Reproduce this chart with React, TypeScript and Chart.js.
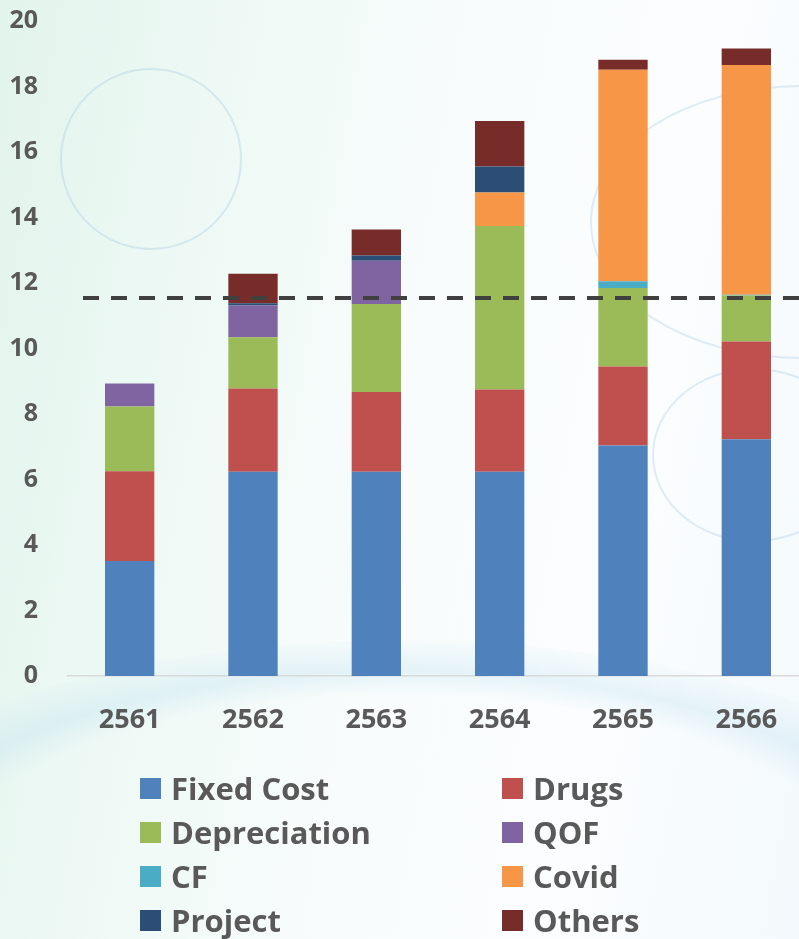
import React, { useEffect, useRef } from "react";
import { Chart, registerables } from "chart.js";

Chart.register(...registerables);

const categories = ["2561", "2562", "2563", "2564", "2565", "2566"];

const seriesNames = ["Fixed Cost", "Drugs", "Depreciation", "QOF", "CF", "Covid", "Project", "Others"];
const seriesColors = ["#4F81BD", "#C0504D", "#9BBB59", "#8064A2", "#4BACC6", "#F79646", "#2C4D75", "#772C2A"];

const fixedCost = [3.51, 6.24, 6.24, 6.24, 7.04, 7.23];
const drugs = [2.74, 2.54, 2.43, 2.51, 2.41, 2.98];
const depreciation = [1.98, 1.56, 2.69, 4.99, 2.4, 1.41];
const qof = [0.7, 0.97, 1.32, 0, 0, 0];
const cf = [0, 0, 0, 0, 0.2, 0.02];
const covid = [0, 0, 0, 1.02, 6.46, 7.02];
const project = [0, 0.07, 0.16, 0.8, 0, 0];
const others = [0, 0.9, 0.79, 1.39, 0.31, 0.5];

const seriesValues = [fixedCost, drugs, depreciation, qof, cf, covid, project, others];

const yTicks = [0, 2, 4, 6, 8, 10, 12, 14, 16, 18, 20];
const threshold = 11.54;

const TEXT = "#595959";
const FONT = "'Open Sans', 'DejaVu Sans', sans-serif";
const CANVAS_SHIFT = 16;

const dashedLinePlugin = {
  id: "thresholdLine",
  afterDatasetsDraw(chart: any) {
    const { ctx, chartArea, scales } = chart;
    const y = scales.y.getPixelForValue(threshold);
    ctx.save();
    ctx.beginPath();
    ctx.setLineDash([16, 12]);
    ctx.lineWidth = 4;
    ctx.strokeStyle = "#404040";
    ctx.moveTo(chartArea.left + 15, y);
    ctx.lineTo(chart.width, y);
    ctx.stroke();
    ctx.restore();
  },
};

function Legend() {
  const rows: number[][] = [];
  for (let i = 0; i < seriesNames.length; i += 2) rows.push([i, i + 1]);
  return (
    <div style={{ position: "absolute", left: 140, top: 766, width: 620 }}>
      {rows.map((r, ri) => (
        <div key={ri} style={{ display: "flex", height: 44, alignItems: "center" }}>
          {r.map((idx) => (
            <div key={idx} style={{ display: "flex", alignItems: "center", width: idx % 2 === 0 ? 362 : 258 }}>
              <div style={{ width: 21, height: 21, background: seriesColors[idx], marginRight: 10 }} />
              <span
                style={{
                  fontFamily: FONT,
                  fontWeight: 700,
                  fontSize: 31,
                  color: TEXT,
                  lineHeight: "44px",
                  whiteSpace: "nowrap",
                }}
              >
                {seriesNames[idx]}
              </span>
            </div>
          ))}
        </div>
      ))}
    </div>
  );
}

export default function App() {
  const canvasRef = useRef<HTMLCanvasElement | null>(null);

  useEffect(() => {
    if (!canvasRef.current) return;
    const chart = new Chart(canvasRef.current, {
      type: "bar",
      data: {
        labels: categories,
        datasets: seriesNames.map((name, i) => ({
          label: name,
          data: seriesValues[i],
          backgroundColor: seriesColors[i],
          borderWidth: 0,
          barPercentage: 0.4,
          categoryPercentage: 1,
          stack: "s",
        })),
      },
      options: {
        responsive: false,
        animation: false,
        devicePixelRatio: 1,
        layout: { padding: { top: 0, right: 0, left: 0, bottom: 0 } },
        plugins: { legend: { display: false }, tooltip: { enabled: false } },
        scales: {
          x: {
            stacked: true,
            grid: { display: false },
            border: { display: true, color: "#d9d9d9", width: 1.5 },
            ticks: {
              color: TEXT,
              font: { family: FONT, weight: "bold", size: 27 },
              padding: 20,
            },
            afterFit(scale: any) {
              scale.height = 939 - 676;
            },
          },
          y: {
            stacked: true,
            min: 0,
            max: 20,
            afterBuildTicks(scale: any) {
              scale.ticks = yTicks.map((v) => ({ value: v }));
            },
            grid: { display: false },
            border: { display: false },
            ticks: {
              color: TEXT,
              font: { family: FONT, weight: "bold", size: 25 },
              padding: 22,
            },
            afterFit(scale: any) {
              scale.width = 68;
            },
          },
        },
      },
      plugins: [dashedLinePlugin],
    } as any);
    return () => chart.destroy();
  }, []);

  return (
    <div
      style={{
        position: "absolute",
        left: 0,
        top: 0,
        width: 799,
        height: 939,
        overflow: "hidden",
        background:
          "linear-gradient(100deg, #e2f4ec 0%, #eef9f5 25%, #f8fcfc 50%, #fbfdfe 75%, #f3f9fc 100%)",
      }}
    >
      <div style={{ position: "absolute", left: 60, top: 68, width: 178, height: 178, borderRadius: "50%", border: "2px solid rgba(180,210,230,0.45)" }} />
      <div style={{ position: "absolute", left: 590, top: 85, width: 420, height: 270, borderRadius: "50%", border: "2px solid rgba(180,210,230,0.4)" }} />
      <div style={{ position: "absolute", left: 652, top: 368, width: 200, height: 170, borderRadius: "50%", border: "2px solid rgba(180,210,230,0.4)" }} />
      <div style={{ position: "absolute", left: -200, top: 640, width: 1200, height: 500, borderRadius: "50%", background: "radial-gradient(ellipse at center, rgba(200,230,240,0) 55%, rgba(190,225,240,0.35) 62%, rgba(200,230,240,0) 72%)" }} />
      <div style={{ position: "absolute", left: 0, top: -CANVAS_SHIFT }}>
        <canvas ref={canvasRef} width={808} height={939 + CANVAS_SHIFT} />
      </div>
      <Legend />
    </div>
  );
}
